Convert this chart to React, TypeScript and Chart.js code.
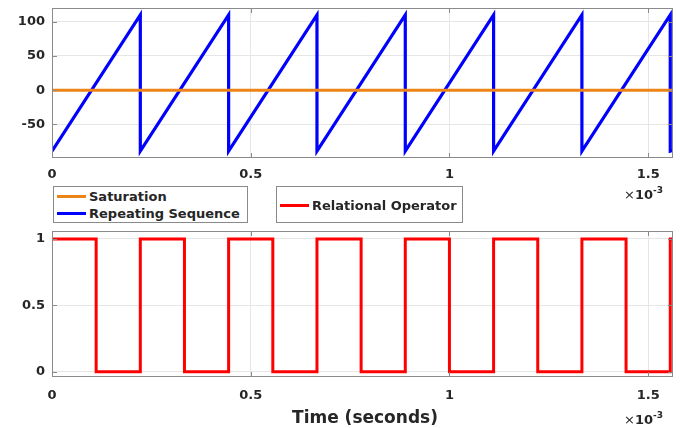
import { useEffect, useRef } from "react";
import { Chart, registerables } from "chart.js";
Chart.register(...registerables);

// time in units of 1e-3 s
const rampTime = [0, 0.2222, 0.2222, 0.4444, 0.4444, 0.6667, 0.6667, 0.8889, 0.8889, 1.1111, 1.1111, 1.3333, 1.3333, 1.5556, 1.5556, 1.5625];
const rampValue = [-89, 110, -89, 110, -89, 110, -89, 110, -89, 110, -89, 110, -89, 110, -89, -88];
const satTime = [0, 1.5625];
const satValue = [0, 0];
const relTime = [0, 0.1111, 0.1111, 0.2222, 0.2222, 0.3333, 0.3333, 0.4444, 0.4444, 0.5556, 0.5556, 0.6667, 0.6667, 0.7778, 0.7778, 0.8889, 0.8889, 1.0, 1.0, 1.1111, 1.1111, 1.2222, 1.2222, 1.3333, 1.3333, 1.4444, 1.4444, 1.5556, 1.5556, 1.5625];
const relValue = [1, 1, 0, 0, 1, 1, 0, 0, 1, 1, 0, 0, 1, 1, 0, 0, 1, 1, 0, 0, 1, 1, 0, 0, 1, 1, 0, 0, 1, 1];

const xTicks = [0, 0.5, 1, 1.5];
const xTickLabels = ["0", "0.5", "1", "1.5"];
const topYTicks = [-50, 0, 50, 100];
const topYTickLabels = ["-50", "0", "50", "100"];
const botYTicks = [0, 0.5, 1];
const botYTickLabels = ["0", "0.5", "1"];

const FONT = "'DejaVu Sans', 'Liberation Sans', Arial, sans-serif";
const TEXT = "#262626";
const AXIS = "#8a8a8a";
const GRID = "#e6e6e6";
const ORANGE = "#ec8418";
const BLUE = "#0000ff";
const RED = "#ff0000";

const toPts = (xs: number[], ys: number[]) => xs.map((x, i) => ({ x, y: ys[i] }));

const framePlugin = {
  id: "frame",
  afterDatasetsDraw(chart: any) {
    const { ctx, chartArea } = chart;
    const { left, right, top, bottom } = chartArea;
    ctx.save();
    ctx.strokeStyle = AXIS;
    ctx.lineWidth = 1;
    ctx.strokeRect(left + 0.5, top + 0.5, right - left - 1, bottom - top - 1);
    const xs = chart.scales.x;
    const ys = chart.scales.y;
    ctx.beginPath();
    xs.ticks.forEach((t: any) => {
      const p = Math.round(xs.getPixelForValue(t.value)) + 0.5;
      ctx.moveTo(p, bottom);
      ctx.lineTo(p, bottom - 5);
      ctx.moveTo(p, top);
      ctx.lineTo(p, top + 5);
    });
    ys.ticks.forEach((t: any) => {
      const p = Math.round(ys.getPixelForValue(t.value)) + 0.5;
      ctx.moveTo(left, p);
      ctx.lineTo(left + 5, p);
      ctx.moveTo(right, p);
      ctx.lineTo(right - 5, p);
    });
    ctx.stroke();
    ctx.restore();
  },
};

function makeOptions(
  yMin: number,
  yMax: number,
  yTicks: number[],
  yLabels: string[],
  padTop: number,
  xHeight: number,
  xPad: number
): any {
  const tickFont = { family: FONT, weight: "bold", size: 13 };
  return {
    responsive: false,
    animation: false,
    devicePixelRatio: 1,
    layout: { padding: { left: 0, right: 15, top: padTop, bottom: 0 } },
    plugins: { legend: { display: false }, tooltip: { enabled: false }, title: { display: false } },
    elements: { point: { radius: 0 }, line: { tension: 0 } },
    scales: {
      x: {
        type: "linear",
        min: 0,
        max: 1.5625,
        afterBuildTicks: (s: any) => {
          s.ticks = xTicks.map((v) => ({ value: v }));
        },
        afterFit: (s: any) => {
          s.height = xHeight;
          s.paddingLeft = 0;
          s.paddingRight = 0;
          s.paddingTop = 0;
          s.paddingBottom = 0;
        },
        ticks: {
          font: tickFont,
          color: TEXT,
          padding: xPad,
          maxRotation: 0,
          autoSkip: false,
          callback: (v: number) => {
            const i = xTicks.indexOf(v);
            return i >= 0 ? xTickLabels[i] : "";
          },
        },
        grid: { color: GRID, drawTicks: false, lineWidth: 1 },
        border: { display: false },
      },
      y: {
        type: "linear",
        min: yMin,
        max: yMax,
        afterBuildTicks: (s: any) => {
          s.ticks = yTicks.map((v) => ({ value: v }));
        },
        afterFit: (s: any) => {
          s.width = 52;
          s.paddingLeft = 0;
          s.paddingRight = 0;
          s.paddingTop = 0;
          s.paddingBottom = 0;
        },
        ticks: {
          font: tickFont,
          color: TEXT,
          padding: 7,
          autoSkip: false,
          callback: (v: number) => {
            const i = yTicks.indexOf(v);
            return i >= 0 ? yLabels[i] : "";
          },
        },
        grid: { color: GRID, drawTicks: false, lineWidth: 1 },
        border: { display: false },
      },
    },
  };
}

function TopChart() {
  const ref = useRef<HTMLCanvasElement>(null);
  useEffect(() => {
    const chart = new Chart(ref.current!, {
      type: "line",
      data: {
        datasets: [
          { label: "Saturation", data: toPts(satTime, satValue), borderColor: ORANGE, borderWidth: 3, pointRadius: 0, fill: false },
          { label: "Repeating Sequence", data: toPts(rampTime, rampValue), borderColor: BLUE, borderWidth: 3.2, pointRadius: 0, fill: false },
        ],
      },
      options: makeOptions(-99, 120, topYTicks, topYTickLabels, 8, 27, 9),
      plugins: [framePlugin],
    } as any);
    return () => chart.destroy();
  }, []);
  return <canvas ref={ref} width={688} height={185} style={{ position: "absolute", left: 0, top: 0, width: 688, height: 185 }} />;
}

function BottomChart() {
  const ref = useRef<HTMLCanvasElement>(null);
  useEffect(() => {
    const chart = new Chart(ref.current!, {
      type: "line",
      data: {
        datasets: [
          { label: "Relational Operator", data: toPts(relTime, relValue), borderColor: RED, borderWidth: 3, pointRadius: 0, fill: false },
        ],
      },
      options: makeOptions(-0.04, 1.06, botYTicks, botYTickLabels, 9, 51, 11),
      plugins: [framePlugin],
    } as any);
    return () => chart.destroy();
  }, []);
  return <canvas ref={ref} width={688} height={206} style={{ position: "absolute", left: 0, top: 222, width: 688, height: 206 }} />;
}

const textStyle = (left: number, cy: number, size: number): any => ({
  position: "absolute",
  left,
  top: cy,
  transform: "translateY(-50%)",
  fontFamily: FONT,
  fontWeight: "bold",
  fontSize: size,
  lineHeight: 1,
  color: TEXT,
  whiteSpace: "nowrap",
});

function Swatch({ left, cy, color }: { left: number; cy: number; color: string }) {
  return <div style={{ position: "absolute", left, top: cy - 1.5, width: 29, height: 3, background: color }} />;
}

function Exponent({ left, cy }: { left: number; cy: number }) {
  return (
    <div style={textStyle(left, cy, 13)}>
      <span style={{ fontWeight: "normal" }}>×</span>10
      <span style={{ fontSize: 9, position: "relative", top: -6 }}>-3</span>
    </div>
  );
}

export default function App() {
  return (
    <div style={{ position: "absolute", left: 0, top: 0, width: 688, height: 428, background: "#fff", overflow: "hidden" }}>
      <TopChart />
      <BottomChart />
      {/* legend 1 */}
      <div style={{ position: "absolute", left: 53, top: 186, width: 193, height: 35, border: `1px solid ${AXIS}`, background: "#fff" }} />
      <Swatch left={57} cy={196} color={ORANGE} />
      <Swatch left={57} cy={213} color={BLUE} />
      <div style={textStyle(89, 196, 13)}>Saturation</div>
      <div style={textStyle(89, 213, 13)}>Repeating Sequence</div>
      {/* legend 2 */}
      <div style={{ position: "absolute", left: 276, top: 186, width: 185, height: 35, border: `1px solid ${AXIS}`, background: "#fff" }} />
      <Swatch left={280} cy={205} color={RED} />
      <div style={textStyle(312, 205, 13)}>Relational Operator</div>
      {/* exponents */}
      <Exponent left={624} cy={194} />
      <Exponent left={624} cy={419} />
      {/* x label */}
      <div style={{ ...textStyle(0, 417, 17), left: 365, transform: "translate(-50%, -50%)" }}>Time (seconds)</div>
    </div>
  );
}
